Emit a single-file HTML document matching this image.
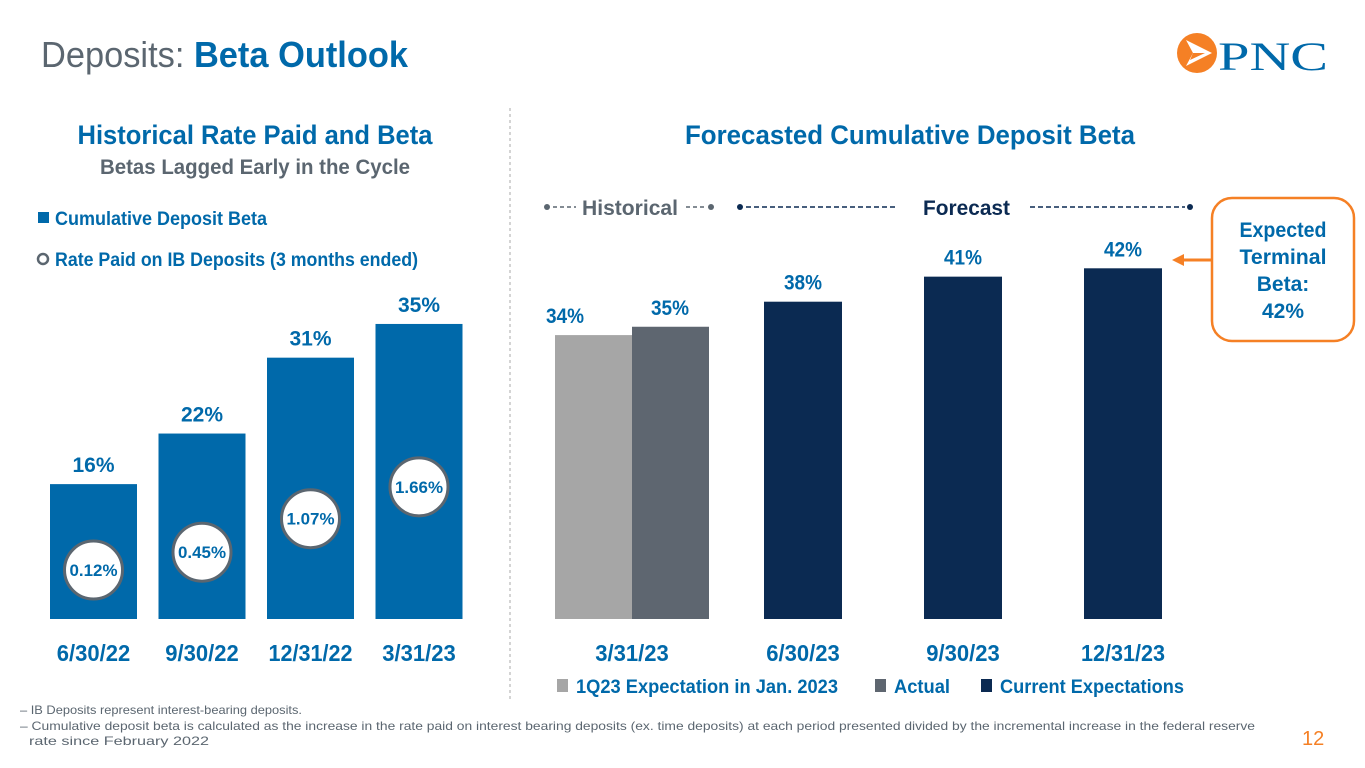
<!DOCTYPE html>
<html><head><meta charset="utf-8"><style>
body{margin:0;background:#fff;}
svg{display:block;font-family:"Liberation Sans",sans-serif;}
.b{font-weight:bold;}
</style></head><body>
<svg id="s" width="1365" height="768" viewBox="0 0 1365 768">
<text x="41" y="67" font-size="36" fill="#5b6670" textLength="367" lengthAdjust="spacingAndGlyphs">Deposits: <tspan class="b" fill="#0069aa">Beta Outlook</tspan></text>
<g>
<circle cx="1197" cy="53" r="20" fill="#f58025"/>
<path d="M1186 40 L1212 53 L1186 66 L1193 53 Z" fill="#fff"/>
<path d="M1193 53 L1205 53 L1190 60 Z" fill="#f58025"/>
<text x="1218" y="70" font-family="Liberation Serif,serif" font-size="40" fill="#0069aa" textLength="110" lengthAdjust="spacingAndGlyphs">PNC</text>
</g>
<line x1="510" y1="108" x2="510" y2="700" stroke="#aaa" stroke-dasharray="3,3"/>
<text x="255" y="144" text-anchor="middle" font-size="27" class="b" fill="#0069aa" textLength="355" lengthAdjust="spacingAndGlyphs">Historical Rate Paid and Beta</text>
<text x="255" y="174" text-anchor="middle" font-size="21" class="b" fill="#5b6670" textLength="310" lengthAdjust="spacingAndGlyphs">Betas Lagged Early in the Cycle</text>
<rect x="38" y="212" width="11" height="11" fill="#0069aa"/>
<text x="55" y="225" font-size="19" class="b" fill="#0069aa" textLength="212" lengthAdjust="spacingAndGlyphs">Cumulative Deposit Beta</text>
<circle cx="43" cy="259" r="5" fill="none" stroke="#5b6670" stroke-width="2.5"/>
<text x="55" y="266" font-size="19" class="b" fill="#0069aa" textLength="363" lengthAdjust="spacingAndGlyphs">Rate Paid on IB Deposits (3 months ended)</text>
<text x="910" y="144" text-anchor="middle" font-size="27" class="b" fill="#0069aa" textLength="450" lengthAdjust="spacingAndGlyphs">Forecasted Cumulative Deposit Beta</text>
<g>
<circle cx="547" cy="207" r="3" fill="#5b6670"/><line x1="553" y1="207" x2="576" y2="207" stroke="#5b6670" stroke-width="1.5" stroke-dasharray="4,3"/>
<text x="582" y="215" font-size="21" class="b" fill="#5b6670" textLength="96" lengthAdjust="spacingAndGlyphs">Historical</text>
<line x1="686" y1="207" x2="706" y2="207" stroke="#5b6670" stroke-width="1.5" stroke-dasharray="4,3"/><circle cx="711" cy="207" r="3" fill="#5b6670"/>
<circle cx="740" cy="207" r="3" fill="#0b2a52"/><line x1="746" y1="207" x2="895" y2="207" stroke="#0b2a52" stroke-width="1.5" stroke-dasharray="5,3"/>
<text x="923" y="215" font-size="21" class="b" fill="#0b2a52" textLength="87" lengthAdjust="spacingAndGlyphs">Forecast</text>
<line x1="1030" y1="207" x2="1185" y2="207" stroke="#0b2a52" stroke-width="1.5" stroke-dasharray="5,3"/><circle cx="1190" cy="207" r="3" fill="#0b2a52"/>
</g>
<g id="left"></g>
<g id="right"></g>
<g>
<rect x="1212" y="198" width="142" height="143" rx="20" fill="#fff" stroke="#f58025" stroke-width="2.5"/>
<line x1="1212" y1="260" x2="1182" y2="260" stroke="#f58025" stroke-width="3"/>
<path d="M1172 260 L1184 254 L1184 266 Z" fill="#f58025"/>
<text x="1283" y="237" text-anchor="middle" font-size="21" class="b" fill="#0069aa" textLength="87" lengthAdjust="spacingAndGlyphs">Expected</text>
<text x="1283" y="264" text-anchor="middle" font-size="21" class="b" fill="#0069aa" textLength="87" lengthAdjust="spacingAndGlyphs">Terminal</text>
<text x="1283" y="291" text-anchor="middle" font-size="21" class="b" fill="#0069aa">Beta:</text>
<text x="1283" y="318" text-anchor="middle" font-size="21" class="b" fill="#0069aa">42%</text>
</g>
<g>
<rect x="557" y="679" width="11" height="13" fill="#a6a6a6"/><text x="576" y="693" font-size="19" class="b" fill="#0069aa" textLength="262" lengthAdjust="spacingAndGlyphs">1Q23 Expectation in Jan. 2023</text>
<rect x="875" y="679" width="11" height="13" fill="#5e6670"/><text x="894" y="693" font-size="19" class="b" fill="#0069aa" textLength="56" lengthAdjust="spacingAndGlyphs">Actual</text>
<rect x="981" y="679" width="11" height="13" fill="#0b2a52"/><text x="1000" y="693" font-size="19" class="b" fill="#0069aa" textLength="184" lengthAdjust="spacingAndGlyphs">Current Expectations</text>
</g>
<g font-size="12" fill="#5b6670">
<text x="20" y="714" textLength="282" lengthAdjust="spacingAndGlyphs">– IB Deposits represent interest-bearing deposits.</text>
<text x="20" y="730" textLength="1235" lengthAdjust="spacingAndGlyphs">– Cumulative deposit beta is calculated as the increase in the rate paid on interest bearing deposits (ex. time deposits) at each period presented divided by the incremental increase in the federal reserve</text>
<text x="29" y="745" textLength="180" lengthAdjust="spacingAndGlyphs">rate since February 2022</text>
</g>
<text x="1302" y="745" font-size="20" fill="#f58025">12</text>
</svg>
<script>
const leftCats=["6/30/22","9/30/22","12/31/22","3/31/23"];
const leftBeta=[16,22,31,35];
const leftRate=[0.12,0.45,1.07,1.66];
const rightCats=["3/31/23","6/30/23","9/30/23","12/31/23"];
const rightExpect=[34];
const rightActual=[35];
const rightCurrent=[38,41,42];
const NS="http://www.w3.org/2000/svg";
function mk(p,t,a,txt){const e=document.createElementNS(NS,t);for(const k in a)e.setAttribute(k,a[k]);if(txt!==undefined)e.textContent=txt;p.appendChild(e);return e;}
const base=619;
const yL=v=>base-v*8.43;
const yR=v=>base-v*8.35;
const yRate=v=>576.5-v*54;
const L=document.getElementById('left');
leftCats.forEach((c,i)=>{
 const x=50+i*108.5,w=87,cx=x+w/2;
 const r=mk(L,'rect',{x:x,y:yL(leftBeta[i]),width:w,height:base-yL(leftBeta[i]),fill:'#0069aa'});
 
 
 const t=mk(L,'text',{x:cx,y:yL(leftBeta[i])-12,'text-anchor':'middle','font-size':21,'font-weight':'bold',fill:'#0069aa'},leftBeta[i]+'%');
 
 
 const cy=yRate(leftRate[i]);
 const ci=mk(L,'circle',{cx:cx,cy:cy,r:29,fill:'#fff',stroke:'#5b6670','stroke-width':3});
 
 
 const rt=mk(L,'text',{x:cx,y:cy+6,'text-anchor':'middle','font-size':17,'font-weight':'bold',fill:'#0069aa',textLength:48,lengthAdjust:'spacingAndGlyphs'},leftRate[i].toFixed(2)+'%');
 
 
 const xl=mk(L,'text',{x:cx,y:661,'text-anchor':'middle','font-size':23,'font-weight':'bold',fill:'#0069aa',textLength:c.length*10.5,lengthAdjust:'spacingAndGlyphs'},c);
 
 
});
const R=document.getElementById('right');
function rbar(x,w,v,fill,name,lx){
 const r=mk(R,'rect',{x:x,y:yR(v),width:w,height:base-yR(v),fill:fill});
 
 
 const t=mk(R,'text',{x:lx,y:yR(v)-12,'text-anchor':'middle','font-size':21,'font-weight':'bold',fill:'#0069aa',textLength:38,lengthAdjust:'spacingAndGlyphs'},v+'%');
 
 
}
rbar(555,77,rightExpect[0],'#a6a6a6','bar-expectation',565);
rbar(632,77,rightActual[0],'#5e6670','bar-actual',670);
rightCurrent.forEach((v,i)=>rbar(764+i*160,78,v,'#0b2a52','bar-current-'+i,803+i*160));
rightCats.forEach((c,i)=>{
 const cx=i===0?632:803+(i-1)*160;
 const xl=mk(R,'text',{x:cx,y:661,'text-anchor':'middle','font-size':23,'font-weight':'bold',fill:'#0069aa',textLength:c.length*10.5,lengthAdjust:'spacingAndGlyphs'},c);
 
 
});
</script>
</body></html>
